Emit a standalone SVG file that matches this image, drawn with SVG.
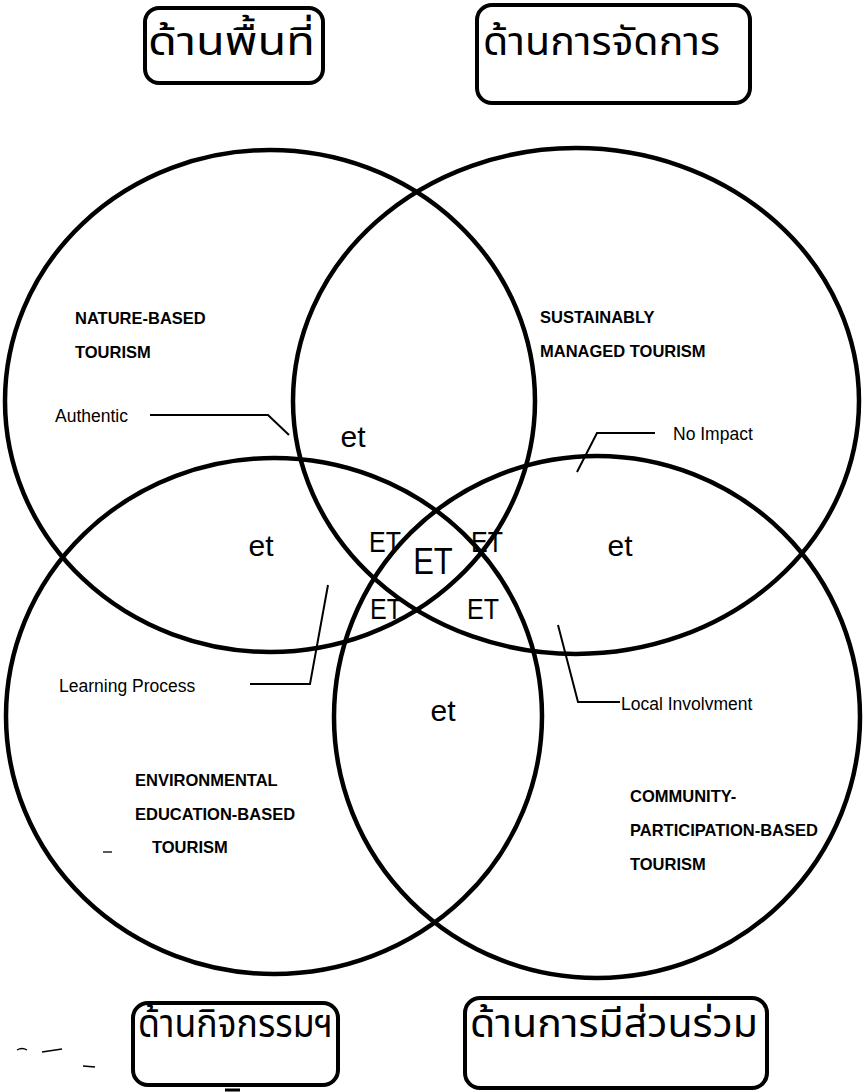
<svg xmlns="http://www.w3.org/2000/svg" width="863" height="1092" viewBox="0 0 863 1092">
<style>
.c{fill:none;stroke:#000;stroke-width:4.5}
.box{fill:none;stroke:#000;stroke-width:4}
.th{font-family:"Noto Sans Thai","Noto Sans","DejaVu Sans",sans-serif;font-size:40px;fill:#000}
.lb{font-family:"Liberation Sans",Arial,sans-serif;font-size:16.5px;font-weight:bold;fill:#000}
.sm{font-family:"Liberation Sans",Arial,sans-serif;font-size:17.5px;fill:#000}
.et{font-family:"Liberation Sans",Arial,sans-serif;font-size:30px;fill:#000;text-anchor:middle}
.ET{font-family:"Liberation Sans",Arial,sans-serif;font-size:25px;fill:#000;text-anchor:middle}
.ln{fill:none;stroke:#000;stroke-width:2}
</style>
<rect width="863" height="1092" fill="#fff"/>
<g id="circles">
<ellipse id="c-nature" class="c" cx="270" cy="401" rx="265" ry="251"/>
<ellipse id="c-manage" class="c" cx="576" cy="401" rx="283" ry="253"/>
<ellipse id="c-edu" class="c" cx="274" cy="716" rx="268" ry="258"/>
<ellipse id="c-comm" class="c" cx="597" cy="717" rx="263" ry="261"/>
</g>
<g id="connectors">
<polyline class="ln" points="150,415 268,415 289,435"/>
<polyline class="ln" points="655,433 597,433 577,472"/>
<polyline class="ln" points="620,702 578,702 558,625"/>
<polyline class="ln" points="250,684 310,684 328,585"/>
</g>
<g id="box-area"><rect class="box" x="145" y="8" width="178" height="75" rx="14"/><text class="th" x="148" y="55" textLength="167" lengthAdjust="spacingAndGlyphs">ด้านพื้นที่</text></g>
<g id="box-manage"><rect class="box" x="477" y="5" width="273" height="98" rx="15"/><text class="th" x="483" y="55" textLength="237" lengthAdjust="spacingAndGlyphs">ด้านการจัดการ</text></g>
<g id="box-activity"><rect class="box" x="133" y="1003" width="205" height="82" rx="15"/><text class="th" x="138" y="1037" textLength="195" lengthAdjust="spacingAndGlyphs">ด้านกิจกรรมฯ</text></g>
<g id="box-particip"><rect class="box" x="465" y="998" width="302" height="90" rx="15"/><text class="th" x="470" y="1037" textLength="288" lengthAdjust="spacingAndGlyphs">ด้านการมีส่วนร่วม</text></g>
<g id="labels">
<text class="lb" x="75" y="324">NATURE-BASED</text>
<text class="lb" x="75" y="358">TOURISM</text>
<text class="sm" x="55" y="422">Authentic</text>
<text class="lb" x="540" y="323">SUSTAINABLY</text>
<text class="lb" x="540" y="357">MANAGED TOURISM</text>
<text class="sm" x="673" y="440">No Impact</text>
<text class="sm" x="621" y="710">Local Involvment</text>
<text class="sm" x="59" y="692">Learning Process</text>
<text class="lb" x="135" y="786">ENVIRONMENTAL</text>
<text class="lb" x="135" y="820">EDUCATION-BASED</text>
<text class="lb" x="152" y="853">TOURISM</text>
<text class="lb" x="630" y="802">COMMUNITY-</text>
<text class="lb" x="630" y="836">PARTICIPATION-BASED</text>
<text class="lb" x="630" y="870">TOURISM</text>
<text class="et" x="353" y="447">et</text>
<text class="et" x="261" y="556">et</text>
<text class="et" x="620" y="556">et</text>
<text class="et" x="443" y="721">et</text>
<text class="ET" transform="translate(385,552) scale(1,1.2)">ET</text>
<text class="ET" transform="translate(487,552) scale(1,1.2)">ET</text>
<text class="ET" transform="translate(386,619) scale(1,1.2)">ET</text>
<text class="ET" transform="translate(483,619) scale(1,1.2)">ET</text>
<text class="ET" transform="translate(433,574) scale(1,1.2)" style="font-size:31px">ET</text>
</g>
<g id="marks" fill="none" stroke="#000" stroke-width="1.3">
<path d="M17,1050 q5,-3 10,0"/><path d="M42,1052 l20,-3"/><path d="M83,1066 l12,1"/><path d="M103,852 l9,0"/>
<path d="M225,1090 l15,0" stroke-width="3"/>
</g>
</svg>
